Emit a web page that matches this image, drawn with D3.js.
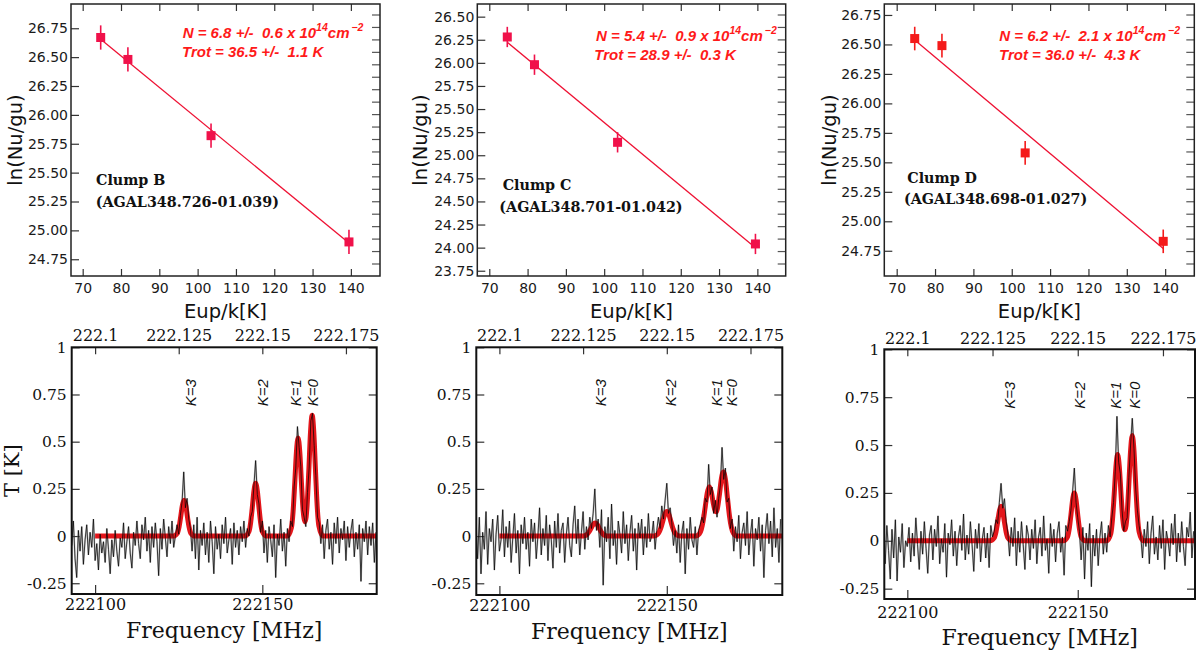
<!DOCTYPE html>
<html><head><meta charset="utf-8">
<script src="https://cdn.jsdelivr.net/npm/d3@7"></script>
<style>body{margin:0;background:#fff}svg{display:block}</style>
</head><body><svg id="c" width="1200" height="652"></svg>
<script>
// ================= DATA =================
// Rotation diagrams
const clumps = ["Clump B", "Clump C", "Clump D"];
const agalNames = ["(AGAL348.726-01.039)", "(AGAL348.701-01.042)", "(AGAL348.698-01.027)"];
const eupK = [74.7, 81.8, 103.5, 139.5];
const lnNuB = [26.67, 26.48, 25.82, 24.90];
const lnNuC = [26.28, 25.98, 25.14, 24.04];
const lnNuD = [26.55, 26.49, 25.58, 24.83];
const errB = [0.105, 0.105, 0.105, 0.105];
const errC = [0.11, 0.11, 0.11, 0.11];
const errD = [0.10, 0.10, 0.10, 0.10];
const fitLineB = [[74.7, 26.655], [139.5, 24.89]];
const fitLineC = [[74.7, 26.223], [139.5, 24.00]];
const fitLineD = [[74.7, 26.538], [139.5, 24.77]];
const colN = ["6.8", "5.4", "6.2"];
const colNerr = ["0.6", "0.9", "2.1"];
const trot = ["36.5", "28.9", "36.0"];
const trotErr = ["1.1", "0.3", "4.3"];
const eupTicks = [70, 80, 90, 100, 110, 120, 130, 140];
const lnTicksB = [24.75, 25.00, 25.25, 25.50, 25.75, 26.00, 26.25, 26.50, 26.75];
const lnTicksC = [23.75, 24.00, 24.25, 24.50, 24.75, 25.00, 25.25, 25.50, 25.75, 26.00, 26.25, 26.50];
const lnTicksD = [24.75, 25.00, 25.25, 25.50, 25.75, 26.00, 26.25, 26.50, 26.75];

// Spectra (channel start / width in MHz, T in K)
const specStart = 222093.0, specStep = 0.5;
const specB = [
 -0.05, 0.08,-0.12,-0.22, 0.03,-0.08, 0.05,-0.15,-0.02, 0.06,
 -0.10, 0.02,-0.06, 0.09,-0.13,-0.04,-0.18, 0.01,-0.09,-0.03,
 -0.14, 0.04,-0.07,-0.20,-0.02,-0.11, 0.03,-0.08,-0.16,-0.01,
 -0.06, 0.07,-0.12,-0.03, 0.05,-0.09,-0.17, 0.02,-0.05, 0.08,
 -0.04,-0.12, 0.06,-0.02, 0.10,-0.08, 0.03,-0.14, 0.05,-0.06,
  0.07,-0.03,-0.21, 0.04,-0.07, 0.09,-0.01,-0.11, 0.05,-0.04,
  0.08,-0.06, 0.00, 0.06, 0.01, 0.11, 0.18, 0.34, 0.15, 0.20,
  0.09, 0.04,-0.08, 0.06,-0.12, 0.10,-0.18, 0.03,-0.05, 0.07,
 -0.10, 0.02,-0.14, 0.08,-0.03,-0.20, 0.05,-0.07, 0.01,-0.12,
  0.06,-0.04, 0.10,-0.09,-0.02, 0.04,-0.15, 0.07,-0.06, 0.03,
 -0.10, 0.05,-0.03, 0.08,-0.06, 0.04, 0.00, 0.10, 0.13, 0.27,
  0.40, 0.22, 0.17, 0.02, 0.08,-0.09, 0.03,-0.14, 0.05,-0.02,
 -0.11, 0.06,-0.22, 0.01,-0.05, 0.09,-0.08, 0.02,-0.16, 0.04,
 -0.03, 0.08, 0.05, 0.26, 0.36, 0.58, 0.47, 0.37, 0.14, 0.10,
  0.05, 0.23, 0.36, 0.61, 0.65, 0.48, 0.32, 0.10, 0.07,-0.04,
  0.06,-0.12, 0.03, 0.09,-0.07, 0.02,-0.15, 0.07,-0.04, 0.10,
 -0.09, 0.04,-0.02, 0.08,-0.13, 0.05,-0.06, 0.03, 0.09,-0.11,
  0.02,-0.07, 0.06,-0.24, 0.04,-0.03, 0.08,-0.10, 0.05,-0.05,
  0.07,-0.14, 0.02
];
const specC = [
  0.05,-0.12, 0.10,-0.20, 0.02,-0.07, 0.13,-0.15, 0.04,-0.03,
  0.09,-0.18, 0.01, 0.11,-0.08,-0.02, 0.14,-0.11, 0.05,-0.06,
  0.08,-0.14,-0.01, 0.12,-0.09, 0.03,-0.20, 0.06,-0.04, 0.10,
 -0.07, 0.02,-0.16, 0.09,-0.03, 0.07,-0.12, 0.00, 0.15,-0.10,
  0.04,-0.05, 0.11,-0.13, 0.06,-0.02,-0.17, 0.08,-0.06, 0.12,
 -0.09, 0.03, 0.07,-0.14, 0.01, 0.10,-0.05,-0.11, 0.06, 0.16,
 -0.04, 0.09,-0.10, 0.02, 0.13,-0.07, 0.05,-0.02, 0.10, 0.04,
  0.12, 0.25, 0.03, 0.09,-0.06, 0.14,-0.26, 0.05,-0.03, 0.10,
 -0.12, 0.17,-0.05, 0.03,-0.15, 0.08, 0.01,-0.09, 0.13,-0.04,
  0.06,-0.13, 0.02, 0.11,-0.08, 0.04,-0.18, 0.07,-0.01, 0.09,
 -0.10, 0.05,-0.06, 0.12,-0.03, 0.00, 0.08,-0.07, 0.03, 0.10,
  0.04, 0.16, 0.09, 0.19, 0.28, 0.12, 0.15, 0.07,-0.05, 0.03,
 -0.09, 0.06,-0.14, 0.02, 0.08,-0.20, 0.04,-0.07, 0.10,-0.02,
 -0.06, 0.05,-0.10, 0.03, 0.06, 0.10, 0.07, 0.20, 0.18, 0.38,
  0.22, 0.26, 0.12, 0.19, 0.10, 0.20, 0.27, 0.47, 0.30, 0.36,
  0.18, 0.20, 0.04, 0.09,-0.08, 0.05,-0.03, 0.11,-0.12, 0.02,
  0.07,-0.05, 0.13,-0.10, 0.01, 0.09,-0.16, 0.04,-0.02, 0.10,
 -0.08, 0.06,-0.22, 0.03, 0.12,-0.04, 0.08,-0.11, 0.15,-0.06,
  0.04,-0.14, 0.09
];
const specD = [
  0.03,-0.12, 0.08,-0.05,-0.20, 0.06,-0.09, 0.11,-0.21, 0.02,
 -0.06, 0.09,-0.14, 0.00,-0.03, 0.07,-0.11, 0.04,-0.08, 0.12,
 -0.02,-0.15, 0.05,-0.07, 0.10,-0.04,-0.17, 0.03, 0.08,-0.10,
  0.06,-0.03, 0.13,-0.12, 0.01,-0.06, 0.09,-0.19, 0.04,-0.02,
  0.11,-0.08, 0.05,-0.13, 0.02, 0.08,-0.05, 0.14,-0.10, 0.03,
 -0.07, 0.10,-0.02,-0.16, 0.06,-0.04, 0.09,-0.11, 0.01, 0.07,
 -0.09, 0.04,-0.14, 0.08, 0.02, 0.05, 0.11, 0.09, 0.20, 0.30,
  0.17, 0.22, 0.10, 0.04,-0.08, 0.07,-0.03, 0.12,-0.13, 0.05,
 -0.06, 0.10,-0.02,-0.15, 0.08, 0.03,-0.10, 0.06,-0.04, 0.11,
 -0.12, 0.02, 0.07,-0.08, 0.13,-0.05, 0.01,-0.17, 0.09,-0.03,
  0.06,-0.11, 0.04, 0.10,-0.06, 0.02,-0.18, 0.08, 0.05, 0.10,
  0.16, 0.26, 0.38, 0.20, 0.12, 0.05,-0.10, 0.07,-0.20, 0.04,
 -0.05, 0.09,-0.24, 0.03,-0.08, 0.06,-0.13, 0.02, 0.10,-0.07,
  0.04,-0.06, 0.08, 0.02, 0.12, 0.20, 0.36, 0.65, 0.41, 0.35,
  0.16, 0.05, 0.10, 0.12, 0.33, 0.50, 0.64, 0.48, 0.27, 0.16,
  0.08, 0.02,-0.09, 0.06,-0.03, 0.10,-0.12, 0.04, 0.13,-0.07,
  0.02,-0.10, 0.08,-0.04, 0.11,-0.15, 0.05, 0.00,-0.08, 0.09,
 -0.02, 0.14,-0.11, 0.04,-0.06, 0.10,-0.03,-0.13, 0.07, 0.02,
  0.15,-0.09, 0.05
];
// Gaussian fit curves [MHz, K]
const fitSpecB = [[222100,0],[222123.4,0],[222124.6,0.016],[222125.1,0.048],[222125.6,0.103],[222126.1,0.163],[222126.6,0.19],[222127.1,0.163],[222127.6,0.103],[222128.1,0.048],[222128.6,0.016],[222129.8,0],
 [222144.8,0],[222146.0,0.024],[222146.5,0.07],[222147.0,0.151],[222147.5,0.24],[222148.0,0.28],[222148.5,0.24],[222149.0,0.151],[222149.5,0.07],[222150.0,0.024],[222151.2,0],
 [222157.5,0],[222158.7,0.044],[222159.2,0.13],[222159.7,0.281],[222160.2,0.446],[222160.7,0.52],[222161.2,0.446],[222161.7,0.282],[222162.2,0.137],[222162.8,0.076],[222163.4,0.166],[222163.9,0.347],[222164.4,0.548],[222164.9,0.64],[222165.4,0.548],[222165.9,0.346],[222166.4,0.16],[222166.9,0.054],[222168.1,0],[222184.2,0]];
const fitSpecC = [[222100,0],[222124.6,0],[222125.6,0.003],[222126.2,0.009],[222126.8,0.023],[222127.4,0.042],[222128.0,0.062],[222128.6,0.07],[222129.2,0.062],[222129.8,0.042],[222130.4,0.023],[222131.0,0.009],[222131.6,0.003],[222132.6,0],
 [222146.0,0],[222147.0,0.006],[222147.6,0.018],[222148.2,0.042],[222148.8,0.079],[222149.4,0.115],[222150.0,0.13],[222150.6,0.115],[222151.2,0.079],[222151.8,0.042],[222152.4,0.018],[222153.0,0.006],[222154.0,0],
 [222158.7,0],[222159.7,0.011],[222160.3,0.035],[222160.9,0.085],[222161.5,0.158],[222162.1,0.229],[222162.7,0.261],[222163.3,0.233],[222163.9,0.173],[222164.5,0.131],[222164.8,0.129],[222165.1,0.145],[222165.7,0.217],[222166.3,0.303],[222166.9,0.34],[222167.5,0.3],[222168.1,0.206],[222168.7,0.11],[222169.3,0.046],[222169.9,0.015],[222170.9,0],[222184.5,0]];
const fitSpecD = [[222100,0],[222124.3,0],[222125.5,0.015],[222126.0,0.045],[222126.5,0.097],[222127.0,0.154],[222127.5,0.18],[222128.0,0.154],[222128.5,0.097],[222129.0,0.045],[222129.5,0.015],[222130.7,0],
 [222145.8,0],[222147.0,0.021],[222147.5,0.062],[222148.0,0.135],[222148.5,0.214],[222149.0,0.25],[222149.5,0.214],[222150.0,0.135],[222150.5,0.062],[222151.0,0.021],[222152.2,0],
 [222158.5,0],[222159.7,0.038],[222160.2,0.112],[222160.7,0.243],[222161.2,0.386],[222161.7,0.45],[222162.2,0.386],[222162.7,0.244],[222163.2,0.116],[222163.85,0.058],[222164.5,0.141],[222165.0,0.297],[222165.5,0.471],[222166.0,0.55],[222166.5,0.471],[222167.0,0.297],[222167.5,0.137],[222168.0,0.047],[222169.2,0],[222184.4,0]];
const kLabels = ["K=3", "K=2", "K=1", "K=0"];
const kLabelFreqB = [222128.6, 222150.0, 222159.9, 222165.2];
const kLabelFreqC = [222130.3, 222151.2, 222164.8, 222169.4];
const kLabelFreqD = [222130.1, 222150.7, 222161.2, 222166.6];
const kLabelT = 0.76;
const tTicks = [1, 0.75, 0.5, 0.25, 0, -0.25];
const tTickLabels = ["1", "0.75", "0.5", "0.25", "0", "-0.25"];
const freqTicks = [222100, 222150];
const freqTickLabels = ["222100", "222150"];
const ghzTicks = [222.1, 222.125, 222.15, 222.175];
const ghzTickLabels = ["222.1", "222.125", "222.15", "222.175"];

// ================= LAYOUT =================
const topLayout = [
  {x0:71,    x1:380,    y0:4, y1:276, xd:[66.95,147.6], yd:[24.605,26.96], yl:21.5,
   ann:[182.7,37.7,182,57.3], clump:[96,185,95.7,206.7], pt:"#f0114a"},
  {x0:477.3, x1:785.7,  y0:4, y1:276, xd:[66.87,147.4], yd:[23.693,26.637], yl:426.5,
   ann:[596,40.7,594.3,60], clump:[502.7,190,499.3,211.7], pt:"#f0114a"},
  {x0:884.3, x1:1194.3, y0:4, y1:276, xd:[66.77,147.6], yd:[24.536,26.843], yl:836,
   ann:[999.3,40.7,999,60], clump:[907.3,183.3,904,204.3], pt:"#f41a1a"}
];
const botLayout = [
  {x0:71.7,  x1:376.7, y0:347.3, y1:594, xd:[222093.0,222184.2], yd:[-0.307,1], bpad:4.5, tpad:6.6, xlab:638.3},
  {x0:476.3, x1:782.3, y0:347.3, y1:595, xd:[222093.1,222184.5], yd:[-0.312,1], bpad:4.8, tpad:6.6, xlab:639.3},
  {x0:884.3, x1:1195,  y0:349.3, y1:599, xd:[222093.25,222184.4], yd:[-0.304,1], bpad:7.5, tpad:5.3, xlab:645}
];

const svg = d3.select("#c");
const lnData = [lnNuB, lnNuC, lnNuD];
const errData = [errB, errC, errD];
const fitLines = [fitLineB, fitLineC, fitLineD];
const lnTicks = [lnTicksB, lnTicksC, lnTicksD];
const specs = [specB, specC, specD];
const fitSpecs = [fitSpecB, fitSpecC, fitSpecD];
const kFreqs = [kLabelFreqB, kLabelFreqC, kLabelFreqD];

function styleAxis(g, family, size, color) {
  g.select(".domain").remove();
  g.attr("font-family", family).attr("font-size", size);
  g.selectAll("text").attr("fill", color);
  g.selectAll("line").attr("stroke", "#333").attr("stroke-width", 1.2);
}

// ---------- rotation diagrams ----------
topLayout.forEach((L, p) => {
  const x = d3.scaleLinear().domain(L.xd).range([L.x0, L.x1]);
  const y = d3.scaleLinear().domain(L.yd).range([L.y1, L.y0]);
  const g = svg.append("g");
  const gl = g.append("g").attr("transform", `translate(${L.x0},0)`)
    .call(d3.axisLeft(y).tickValues(lnTicks[p]).tickFormat(d3.format(".2f")).tickSize(-8).tickPadding(3));
  styleAxis(gl, "DejaVu Sans", 14, "#1a1a1a");
  const gb = g.append("g").attr("transform", `translate(0,${L.y1})`)
    .call(d3.axisBottom(x).tickValues(eupTicks).tickSize(-7).tickPadding(7));
  styleAxis(gb, "DejaVu Sans", 14, "#1a1a1a");
  const gt = g.append("g").attr("transform", `translate(0,${L.y0})`)
    .call(d3.axisTop(x).tickValues(eupTicks).tickSize(-7).tickFormat(""));
  styleAxis(gt, "DejaVu Sans", 14, "#1a1a1a");
  const rt = d3.range(L.y0 + 11, L.y1 - 2, 12.45);
  g.selectAll(".rt").data(rt).join("line")
    .attr("x1", L.x1 - 8).attr("x2", L.x1).attr("y1", d => d).attr("y2", d => d)
    .attr("stroke", "#555").attr("stroke-width", 1.2);
  g.append("rect").attr("x", L.x0).attr("y", L.y0).attr("width", L.x1 - L.x0).attr("height", L.y1 - L.y0)
    .attr("fill", "none").attr("stroke", "#222").attr("stroke-width", 1.5);
  g.append("path").datum(fitLines[p])
    .attr("d", d3.line().x(d => x(d[0])).y(d => y(d[1])))
    .attr("stroke", "#ee1133").attr("stroke-width", 1.3).attr("fill", "none");
  const pts = eupK.map((e, i) => ({e, v: lnData[p][i], err: errData[p][i]}));
  g.selectAll(".eb").data(pts).join("line")
    .attr("x1", d => x(d.e)).attr("x2", d => x(d.e))
    .attr("y1", d => y(d.v - d.err)).attr("y2", d => y(d.v + d.err))
    .attr("stroke", L.pt).attr("stroke-width", 1.6);
  g.selectAll(".pt").data(pts).join("rect")
    .attr("x", d => x(d.e) - 4.5).attr("y", d => y(d.v) - 4.5)
    .attr("width", 9).attr("height", 9).attr("fill", L.pt);
  g.append("text").attr("x", (L.x0 + L.x1) / 2).attr("y", 318).attr("text-anchor", "middle")
    .attr("font-family", "DejaVu Sans").attr("font-size", 19.5).attr("fill", "#111").text("Eup/k[K]");
  g.append("text").attr("transform", `translate(${L.yl},${(L.y0 + L.y1) / 2}) rotate(-90)`)
    .attr("text-anchor", "middle").attr("font-family", "DejaVu Sans").attr("font-size", 19.5)
    .attr("fill", "#111").text("ln(Nu/gu)");
  const t1 = g.append("text").attr("x", L.ann[0]).attr("y", L.ann[1])
    .attr("font-family", "Liberation Sans").attr("font-weight", "bold").attr("font-style", "italic")
    .attr("font-size", 15).attr("fill", "#ff1a1a").style("white-space", "pre");
  t1.append("tspan").text(`N = ${colN[p]} +/-  ${colNerr[p]} x 10`);
  t1.append("tspan").attr("dy", -7).attr("font-size", 10.5).text("14");
  t1.append("tspan").attr("dy", 7).text("cm");
  t1.append("tspan").attr("dy", -7).attr("dx", 2).attr("font-size", 10.5).text("−2");
  g.append("text").attr("x", L.ann[2]).attr("y", L.ann[3])
    .attr("font-family", "Liberation Sans").attr("font-weight", "bold").attr("font-style", "italic")
    .attr("font-size", 15).attr("fill", "#ff1a1a").style("white-space", "pre")
    .text(`Trot = ${trot[p]} +/-  ${trotErr[p]} K`);
  g.append("text").attr("x", L.clump[0]).attr("y", L.clump[1])
    .attr("font-family", "DejaVu Serif").attr("font-weight", "bold").attr("font-size", 14.3)
    .attr("fill", "#111").text(clumps[p]);
  g.append("text").attr("x", L.clump[2]).attr("y", L.clump[3])
    .attr("font-family", "DejaVu Serif").attr("font-weight", "bold").attr("font-size", 14.3)
    .attr("fill", "#111").text(agalNames[p]);
});

// ---------- spectra ----------
botLayout.forEach((L, p) => {
  const x = d3.scaleLinear().domain(L.xd).range([L.x0, L.x1]);
  const xg = d3.scaleLinear().domain(L.xd.map(v => v / 1000)).range([L.x0, L.x1]);
  const y = d3.scaleLinear().domain(L.yd).range([L.y1, L.y0]);
  const g = svg.append("g");
  const cid = "clip" + p;
  svg.append("defs").append("clipPath").attr("id", cid).append("rect")
    .attr("x", L.x0).attr("y", L.y0).attr("width", L.x1 - L.x0).attr("height", L.y1 - L.y0);

  const gl = g.append("g").attr("transform", `translate(${L.x0},0)`)
    .call(d3.axisLeft(y).tickValues(tTicks).tickFormat((d, i) => tTickLabels[i]).tickSize(-8).tickPadding(5));
  styleAxis(gl, "DejaVu Serif", 15.5, "#111");
  const gr = g.append("g").attr("transform", `translate(${L.x1},0)`)
    .call(d3.axisRight(y).tickValues(tTicks).tickSize(-8).tickFormat(""));
  styleAxis(gr, "DejaVu Serif", 15, "#111");
  const gb = g.append("g").attr("transform", `translate(0,${L.y1})`)
    .call(d3.axisBottom(x).tickValues(freqTicks).tickFormat((d, i) => freqTickLabels[i]).tickSize(-9).tickPadding(L.bpad));
  styleAxis(gb, "DejaVu Serif", 16, "#111");
  const gt = g.append("g").attr("transform", `translate(0,${L.y0})`)
    .call(d3.axisTop(xg).tickValues(ghzTicks).tickFormat((d, i) => ghzTickLabels[i]).tickSize(-7).tickPadding(L.tpad));
  styleAxis(gt, "DejaVu Serif", 16, "#111");

  const plot = g.append("g").attr("clip-path", `url(#${cid})`);
  const specLine = d3.line().x((d, i) => x(specStart + i * specStep)).y(d => y(d));
  plot.append("path").datum(specs[p]).attr("d", specLine)
    .attr("fill", "none").attr("stroke", "#888").attr("stroke-width", 1.8).attr("stroke-opacity", 0.5);
  plot.append("path").datum(fitSpecs[p])
    .attr("d", d3.line().x(d => x(d[0])).y(d => y(d[1])).curve(d3.curveMonotoneX))
    .attr("fill", "none").attr("stroke", "#e3161b").attr("stroke-width", 5).attr("stroke-linejoin", "round");
  plot.append("path").datum(specs[p]).attr("d", specLine)
    .attr("fill", "none").attr("stroke", "#000").attr("stroke-width", 0.8).attr("stroke-opacity", 0.9);

  g.append("rect").attr("x", L.x0).attr("y", L.y0).attr("width", L.x1 - L.x0).attr("height", L.y1 - L.y0)
    .attr("fill", "none").attr("stroke", "#111").attr("stroke-width", 2);

  g.selectAll(".kl").data(kLabels).join("text")
    .attr("transform", (d, i) => `translate(${x(kFreqs[p][i])},${y(kLabelT)}) rotate(-90)`)
    .attr("text-anchor", "middle").attr("dy", "0.35em")
    .attr("font-family", "Liberation Sans").attr("font-style", "italic").attr("font-size", 15)
    .attr("fill", "#111").text(d => d);

  g.append("text").attr("x", (L.x0 + L.x1) / 2).attr("y", L.xlab).attr("text-anchor", "middle")
    .attr("font-family", "DejaVu Serif").attr("font-size", 22).attr("fill", "#111").text("Frequency [MHz]");
  if (p === 0) {
    g.append("text").attr("transform", `translate(19,${(L.y0 + L.y1) / 2}) rotate(-90)`)
      .attr("text-anchor", "middle").attr("font-family", "DejaVu Serif").attr("font-size", 21)
      .attr("fill", "#111").text("T [K]");
  }
});
</script>
</body></html>
